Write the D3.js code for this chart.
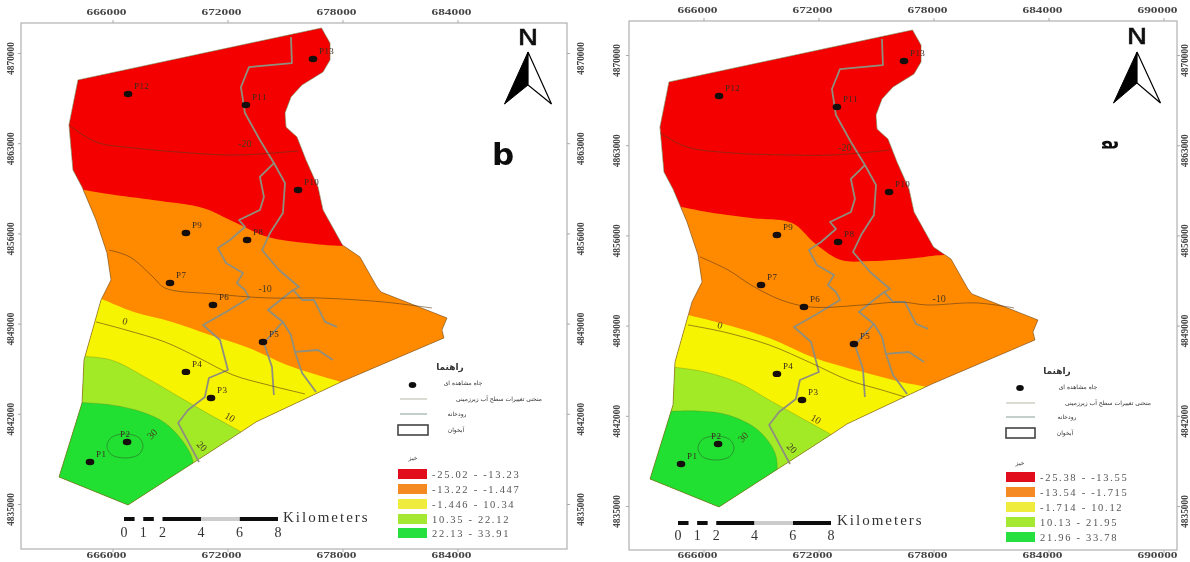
<!DOCTYPE html>
<html><head><meta charset="utf-8">
<script src="https://cdn.jsdelivr.net/npm/d3@7"></script>
<style>html,body{margin:0;padding:0;background:#fff;overflow:hidden}svg{display:block}</style>
</head><body><svg id="c" width="1190" height="562"></svg>
<script>
// ---- geographic data: [easting, northing] in metres ----
const aquiferBoundary=[[677243,4871940],[677686,4870776],[677686,4869457],[677321,4868526],[676225,4867517],[675651,4866586],[675338,4865344],[675391,4864258],[675964,4863482],[676434,4861697],[677060,4859602],[677321,4857817],[678338,4855101],[679251,4854170],[680138,4851842],[680347,4851454],[683790,4849436],[683529,4848505],[683633,4847884],[678260,4844470],[673826,4841366],[673043,4840590],[667148,4834925],[663548,4837098],[664748,4842840],[664852,4846177],[665739,4850833],[666261,4852385],[666052,4854480],[665478,4857041],[664748,4859602],[664278,4860921],[664070,4864413],[664539,4867905]];
const wellNames=["P1","P2","P3","P4","P5","P6","P7","P8","P9","P10","P11","P12","P13"];
const wellCoords=[[665165,4838260],[667100,4839810],[671480,4843230],[670170,4845250],[674190,4847570],[671580,4850445],[669340,4852150],[673360,4855490],[670170,4856030],[676020,4859370],[673300,4865965],[667150,4866820],[676800,4869530]];
const riverMain=[[675650,4871240],[675700,4869220],[673460,4868910],[673040,4867360],[673250,4865340],[674030,4863250],[674760,4861460],[674030,4860380],[674240,4858830],[674030,4857820],[672940,4857040],[673250,4856500],[672470,4855490],[671840,4854870],[672260,4853700],[673150,4852930],[672830,4852150],[673250,4851610],[673460,4850990],[672260,4849900],[671060,4848890],[671950,4847730],[672360,4845400],[671370,4844780],[671160,4843310],[670280,4842300],[669760,4841290],[670850,4838260]];
const riverEast=[[674760,4861460],[675340,4859910],[675230,4857580],[674560,4856030],[674140,4854710],[675030,4853160],[676070,4851840],[675760,4851610],[675230,4850990],[674450,4850060],[675230,4849130],[674240,4847500],[674660,4845630],[674760,4843460]];
const riverBranchA=[[675760,4851610],[676230,4850830],[676850,4850830],[677430,4849130],[678050,4848740]];
const riverBranchB=[[675230,4849130],[675650,4848120],[675860,4846800],[676230,4845170],[676960,4843690]];
const riverBranchC=[[675860,4846800],[677060,4846950],[677840,4846180]];
const rivers=[riverMain,riverEast,riverBranchA,riverBranchB,riverBranchC];
const contour30=[[666990,4840430],[667670,4840200],[667930,4839500],[667670,4838800],[666990,4838570],[666310,4838800],[666050,4839500],[666310,4840200]];

// ---- panel b: class breaks ----
const breaksB=[
 [[663500,4859700],[666470,4858980],[668450,4858590],[671060,4857970],[672470,4857040],[674450,4855720],[676430,4855260],[678470,4855020],[692000,4855000]],
 [[665430,4851140],[667460,4849900],[669440,4849130],[671430,4848120],[673460,4847110],[675440,4845790],[678260,4844470],[679250,4844000]],
 [[664380,4846490],[666260,4846180],[668030,4844860],[669650,4843460],[671270,4842060],[673040,4840590],[673770,4839890]],
 [[664120,4842920],[666260,4842690],[667880,4842140],[669080,4841290],[670070,4839740],[670540,4838260],[670330,4836870]]];
const contoursB=[
 [[664070,4864413],[665480,4863090],[667460,4862630],[670430,4862240],[672830,4862080],[676020,4862400]],
 [[666160,4854710],[667250,4854170],[668450,4852620],[669080,4851760],[671630,4851300],[674450,4850990],[677060,4850990],[680450,4850680],[683010,4850210]],
 [[665480,4849130],[667040,4848505],[669080,4847570],[670850,4846330],[672630,4845010],[674450,4844240],[676380,4843540]]];
const contourLabelTexts=["-20","-10","0","10","20","30"];
const contourLabelAngles=[0,0,15,30,45,-45];
const contourLabelsB=[[673250,4862940],[674300,4851760],[666990,4849200],[672470,4841750],[671010,4839500],[668400,4840430]];
const legendRangesB=["-25.02 - -13.23","-13.22 - -1.447","-1.446 - 10.34","10.35 - 22.12","22.13 - 33.91"];

// ---- panel a: class breaks ----
const breaksA=[
 [[664640,4858360],[665170,4858200],[666830,4857740],[668820,4857350],[670960,4856960],[672130,4855410],[673510,4854090],[675080,4854010],[677430,4854250],[678890,4854480],[692000,4854000]],
 [[664900,4850060],[665530,4849820],[667200,4849200],[669760,4848040],[672130,4846490],[674660,4845400],[676640,4844630],[678000,4844240],[679250,4843690]],
 [[664120,4845940],[664750,4845790],[666420,4845400],[668190,4844550],[669760,4843230],[671350,4841910],[672940,4840590],[673770,4839810]],
 [[664020,4842300],[666050,4842370],[667620,4842060],[669180,4840900],[670070,4839120],[670170,4837640],[669970,4836710]]];
const contoursA=[
 [[664070,4863950],[665480,4862860],[667830,4862400],[670750,4862240],[673100,4862240],[676070,4862630]],
 [[666160,4854330],[667620,4853320],[668820,4852150],[670380,4850990],[671950,4850440],[674660,4850600],[676640,4850830],[678000,4850600],[680560,4850760],[682540,4850370]],
 [[665530,4849050],[667410,4848500],[669760,4847500],[671950,4846100],[673880,4844780],[675650,4844000],[676850,4843460]]];
const contourLabelsA=[[673720,4862860],[678630,4851070],[667200,4849050],[672210,4841750],[670960,4839500],[668400,4840360]];
const legendRangesA=["-25.38 - -13.55","-13.54 - -1.715","-1.714 - 10.12","10.13 - 21.95","21.96 - 33.78"];

// ---- ticks & legend text ----
const xTicksB=[666000,672000,678000,684000];
const xTicksA=[666000,672000,678000,684000,690000];
const yTicks=[4835000,4842000,4849000,4856000,4863000,4870000];
const scaleKm=[0,1,2,4,6,8];
const scaleBlack=[[0,0.55],[1,1.55],[2,4],[6,8]];
const scaleGrey=[[4,6]];
const classColors=["#f40000","#ff8a00","#f6f400","#a2ea28","#22e030"];
const legendColors=["#e2101c","#f58a20","#f0ec3c","#a4e832","#28e040"];
const legendTitle="راهنما", legendWell="چاه مشاهده ای", legendContour="منحنی تغییرات سطح آب زیرزمینی", legendRiver="رودخانه", legendAquifer="آبخوان", legendClass="خیز";

const panels=[
 {letter:"b",breaks:breaksB,contours:contoursB,labels:contourLabelsB,ranges:legendRangesB,xTicks:xTicksB,
  xr:[106,566],yr:[53,504],frame:[21,23,567,549],yLabelL:11,yLabelR:581,botPad:1,
  n:{x:528,y:45,tip:52,notch:85,foot:104,half:23.5},
  tag:{x:503,y:165},
  leg:{titleX:450,titleY:370,dot:[412.5,385],wellX:463,wellY:385,lineX:[400,427],lineY:399,contX:499,riverY:414,rivX:457,rect:[398,425,30,10],aqX:456,aqY:432,classX:413,classY:460,sw:[469,484,499,514,528],swX:398,swW:29,swH:10,txtX:432},
  sb:{r:[124,278],y:517,h:4,numY:537,kmX:283,kmY:522}},
 {letter:"a",breaks:breaksA,contours:contoursA,labels:contourLabelsA,ranges:legendRangesA,xTicks:xTicksA,
  xr:[697,1157],yr:[55,506],frame:[629,21,1177,550],yLabelL:617,yLabelR:1185,botPad:0,
  n:{x:1137,y:44,tip:52,notch:83,foot:103,half:23.5},
  tag:{x:1112,y:145},
  leg:{titleX:1057,titleY:374,dot:[1020,388],wellX:1078,wellY:389,lineX:[1006,1035],lineY:403,contX:1108,riverY:417,rivX:1067,rect:[1006,428,29,10],aqX:1065,aqY:435,classX:1020,classY:465,sw:[472,487,502,517,532],swX:1006,swW:29,swH:10,txtX:1040},
  sb:{r:[678,831],y:521,h:4,numY:540,kmX:837,kmY:525}}
];

const svg=d3.select("#c");
const defs=svg.append("defs");
defs.append("filter").attr("id","soft").attr("filterUnits","userSpaceOnUse")
 .attr("x",0).attr("y",0).attr("width",1190).attr("height",562)
 .append("feGaussianBlur").attr("stdDeviation",0.7);
const root=svg.append("g").attr("filter","url(#soft)");
root.append("rect").attr("width",1190).attr("height",562).attr("fill","#fff");
const SERIF="'Liberation Serif',serif", AR="'DejaVu Sans',sans-serif";

function closeBand(c){
  const first=c[0], last=c[c.length-1];
  return {curve:c, tail:[[last[0],4830000],[660000,4830000],[660000,first[1]]]};
}

panels.forEach((p,pi)=>{
  const x=d3.scaleLinear().domain([666000,690000]).range(p.xr);
  const y=d3.scaleLinear().domain([4870000,4835000]).range(p.yr);
  const g=root.append("g");
  const [fx0,fy0,fx1,fy1]=p.frame;
  const lineL=d3.line().x(d=>x(d[0])).y(d=>y(d[1]));
  const lineC=d3.line().x(d=>x(d[0])).y(d=>y(d[1])).curve(d3.curveCatmullRom.alpha(0.5));
  const closed=d3.line().x(d=>x(d[0])).y(d=>y(d[1])).curve(d3.curveLinearClosed);

  // frame
  g.append("rect").attr("x",fx0).attr("y",fy0).attr("width",fx1-fx0).attr("height",fy1-fy0)
   .attr("fill","none").attr("stroke","#a9a9a9").attr("stroke-width",1.1);

  // axes
  const tickShift=6.5;
  const top=g.append("g").attr("transform",`translate(${tickShift},${fy0})`)
    .call(d3.axisTop(x).tickValues(p.xTicks).tickSize(3).tickPadding(5).tickFormat(d3.format("d")));
  const bot=g.append("g").attr("transform",`translate(${tickShift},${fy1})`)
    .call(d3.axisBottom(x).tickValues(p.xTicks).tickSize(3).tickPadding(p.botPad).tickFormat(d3.format("d")));
  [top,bot].forEach(a=>{
    a.select(".domain").remove();
    a.selectAll("line").attr("stroke","#a9a9a9");
    a.selectAll("text").attr("x",-tickShift).attr("fill","#444").attr("font-family",SERIF)
     .attr("font-size",7.5).attr("font-weight","bold")
     .attr("textLength",40).attr("lengthAdjust","spacingAndGlyphs");
  });
  [[d3.axisLeft(y),fx0,p.yLabelL],[d3.axisRight(y),fx1,p.yLabelR]].forEach(([ax,fx,lx])=>{
    const a=g.append("g").attr("transform",`translate(${fx},0)`)
      .call(ax.tickValues(yTicks).tickSize(3).tickFormat(d3.format("d")));
    a.select(".domain").remove();
    a.selectAll("line").attr("stroke","#a9a9a9");
    a.selectAll("text").attr("fill","#444").attr("font-family",SERIF).attr("font-size",10).attr("font-weight","bold")
     .attr("text-anchor","middle").attr("dy",0).attr("x",0).attr("y",0)
     .attr("textLength",33).attr("lengthAdjust","spacingAndGlyphs")
     .attr("transform",`translate(${lx-fx+3},5) rotate(-90)`);
  });

  // map zones clipped to the aquifer boundary
  const cid="clip"+pi;
  defs.append("clipPath").attr("id",cid).append("path").attr("d",closed(aquiferBoundary));
  const map=g.append("g").attr("clip-path",`url(#${cid})`);
  map.append("path").attr("d",closed(aquiferBoundary)).attr("fill",classColors[0]);
  p.breaks.forEach((b,i)=>{
    const band=closeBand(b);
    const head=lineC(band.curve);
    const tail=band.tail.map(d=>`L${x(d[0])},${y(d[1])}`).join("");
    map.append("path").attr("d",head+tail+"Z").attr("fill",classColors[i+1]);
  });
  p.breaks.slice(2).forEach(b=>{
    map.append("path").attr("d",lineC(b)).attr("fill","none").attr("stroke","#5f7d20").attr("stroke-width",0.7).attr("stroke-opacity",0.45);
  });
  g.append("path").attr("d",closed(aquiferBoundary)).attr("fill","none").attr("stroke","#6e5a2c").attr("stroke-width",0.8).attr("stroke-opacity",0.75);

  // rivers
  g.selectAll(null).data(rivers).enter().append("path").attr("d",lineL).attr("fill","none")
    .attr("stroke","#8f8f7e").attr("stroke-width",1.8).attr("stroke-linejoin","round");

  // contours
  g.selectAll(null).data(p.contours).enter().append("path").attr("d",lineC).attr("fill","none")
    .attr("stroke","#5a3a20").attr("stroke-width",0.8).attr("stroke-opacity",0.75);
  g.append("path").attr("d",d3.line().x(d=>x(d[0])).y(d=>y(d[1])).curve(d3.curveCardinalClosed)(contour30))
    .attr("fill","none").attr("stroke","#2b7a2b").attr("stroke-width",0.7);
  g.selectAll(null).data(p.labels).enter().append("text")
    .attr("transform",(d,i)=>`translate(${x(d[0])},${y(d[1])}) rotate(${contourLabelAngles[i]})`)
    .attr("dy","0.35em").attr("text-anchor","middle")
    .attr("font-family",SERIF).attr("font-size",10).attr("fill","#4a3a20")
    .text((d,i)=>contourLabelTexts[i]);

  // wells
  g.selectAll(null).data(wellCoords).enter().append("ellipse")
    .attr("cx",d=>x(d[0])).attr("cy",d=>y(d[1])).attr("rx",4.3).attr("ry",3.2).attr("fill","#140a08");
  g.selectAll(null).data(wellCoords).enter().append("text")
    .attr("x",(d,i)=>x(d[0])+(wellNames[i]==="P2"?-7:6)).attr("y",d=>y(d[1])-5)
    .attr("font-family",SERIF).attr("font-size",9).attr("letter-spacing",0.4).attr("fill","#3a2a22")
    .text((d,i)=>wellNames[i]);

  // north arrow
  const n=p.n;
  g.append("text").attr("x",n.x).attr("y",n.y).attr("text-anchor","middle")
   .attr("font-family",AR).attr("font-size",22).attr("fill","#111").attr("stroke","#111").attr("stroke-width",0.5)
   .attr("textLength",21).attr("lengthAdjust","spacingAndGlyphs").text("N");
  g.append("path").attr("d",`M${n.x},${n.tip}L${n.x-n.half},${n.foot}L${n.x},${n.notch}Z`).attr("fill","#000").attr("stroke","#000");
  g.append("path").attr("d",`M${n.x},${n.tip}L${n.x+n.half},${n.foot}L${n.x},${n.notch}Z`).attr("fill","#fff").attr("stroke","#000").attr("stroke-width",1.2);

  // panel tag
  if(p.letter==="b"){
    g.append("text").attr("x",p.tag.x).attr("y",p.tag.y).attr("text-anchor","middle")
     .attr("font-family","'DejaVu Sans',sans-serif").attr("font-weight","bold").attr("font-size",31).attr("fill","#111").text("b");
  } else {
    g.append("text").attr("transform",`translate(${p.tag.x},${p.tag.y}) rotate(90) scale(0.7,1.45)`)
     .attr("text-anchor","middle").attr("dy","0.33em")
     .attr("font-family","'DejaVu Sans',sans-serif").attr("font-weight","bold").attr("font-size",20).attr("fill","#111").text("a");
  }

  // legend
  const L=p.leg;
  const ar=(tx,ty,s,size,w)=>g.append("text").attr("x",tx).attr("y",ty).attr("text-anchor","middle")
     .attr("direction","rtl").attr("font-family",AR).attr("font-size",size).attr("font-weight",w||"normal").attr("fill","#333").text(s);
  ar(L.titleX,L.titleY,legendTitle,9,"bold");
  g.append("ellipse").attr("cx",L.dot[0]).attr("cy",L.dot[1]).attr("rx",3.8).attr("ry",3).attr("fill","#111");
  ar(L.wellX,L.wellY,legendWell,6);
  g.append("line").attr("x1",L.lineX[0]).attr("x2",L.lineX[1]).attr("y1",L.lineY).attr("y2",L.lineY).attr("stroke","#b8b8a8").attr("stroke-width",1);
  ar(L.contX,L.lineY+2,legendContour,6);
  g.append("line").attr("x1",L.lineX[0]).attr("x2",L.lineX[1]).attr("y1",L.riverY).attr("y2",L.riverY).attr("stroke","#9db0a8").attr("stroke-width",1.2);
  ar(L.rivX,L.riverY+2,legendRiver,6);
  g.append("rect").attr("x",L.rect[0]).attr("y",L.rect[1]).attr("width",L.rect[2]).attr("height",L.rect[3]).attr("fill","#fff").attr("stroke","#444").attr("stroke-width",1.6);
  ar(L.aqX,L.aqY,legendAquifer,6);
  ar(L.classX,L.classY,legendClass,6);
  g.selectAll(null).data(p.ranges).enter().append("rect")
    .attr("x",L.swX).attr("y",(d,i)=>L.sw[i]).attr("width",L.swW).attr("height",L.swH).attr("fill",(d,i)=>legendColors[i]);
  g.selectAll(null).data(p.ranges).enter().append("text")
    .attr("x",L.txtX).attr("y",(d,i)=>L.sw[i]+8.5)
    .attr("font-family",SERIF).attr("font-size",10.5).attr("letter-spacing",1.7).attr("fill","#555").text(d=>d);

  // scale bar
  const sb=p.sb, k=d3.scaleLinear().domain([0,8]).range(sb.r);
  g.selectAll(null).data(scaleBlack).enter().append("rect").attr("x",d=>k(d[0])).attr("width",d=>k(d[1])-k(d[0]))
    .attr("y",sb.y).attr("height",sb.h).attr("fill","#111");
  g.selectAll(null).data(scaleGrey).enter().append("rect").attr("x",d=>k(d[0])).attr("width",d=>k(d[1])-k(d[0]))
    .attr("y",sb.y).attr("height",sb.h).attr("fill","#ccc");
  g.selectAll(null).data(scaleKm).enter().append("text").attr("x",d=>k(d)).attr("y",sb.numY).attr("text-anchor","middle")
    .attr("font-family",SERIF).attr("font-size",14).attr("fill","#333").text(d=>d);
  g.append("text").attr("x",sb.kmX).attr("y",sb.kmY).attr("font-family",SERIF).attr("font-size",15).attr("letter-spacing",2).attr("fill","#333").text("Kilometers");
});
</script></body></html>
